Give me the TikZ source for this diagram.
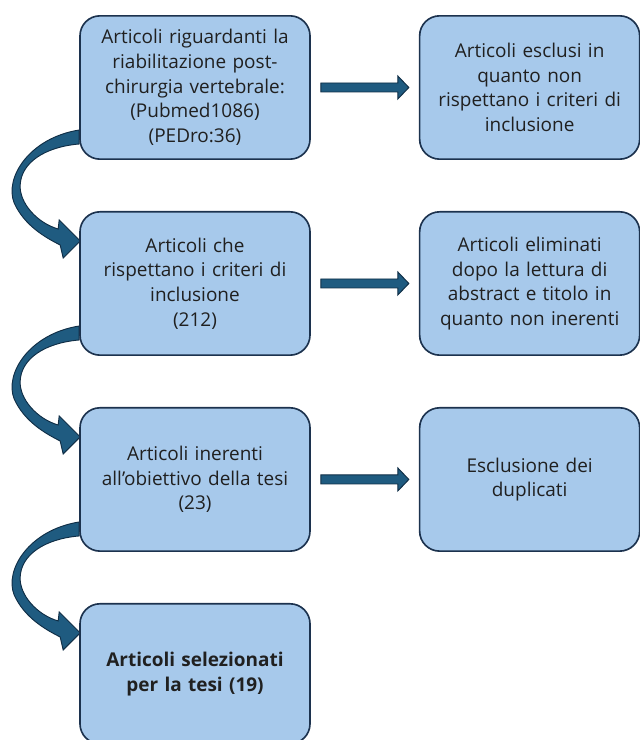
\documentclass[tikz,border=0pt]{standalone}
\usepackage{fontspec}
\setmainfont{Open Sans}
\usepackage{tikz}
\usetikzlibrary{positioning,calc,backgrounds}

\definecolor{boxblue}{RGB}{167,201,235}
\definecolor{boxline}{RGB}{28,50,78}
\definecolor{arrowblue}{RGB}{31,91,128}
\definecolor{arrowline}{RGB}{16,46,70}
\definecolor{textgray}{RGB}{32,32,32}

% straight block arrow between two coordinates (pixel units)
\newcommand{\blockarrow}[2]{%
  \filldraw[arrowstyle]
    ($(#1)+(0,-4.5)$) -- ($(#2)+(-11,-4.5)$) -- ($(#2)+(-11,-11.5)$) -- (#2)
    -- ($(#2)+(-11,11.5)$) -- ($(#2)+(-11,4.5)$) -- ($(#1)+(0,4.5)$) -- cycle;}

% curved arrow entering the left side of a box from the box above
\newcommand{\bendarrow}[1]{%
  \filldraw[arrowstyle]
    ($(#1.north west)+(0,-81)$)
      .. controls ($(#1.north west)+(-50,-73)$) and ($(#1.north west)+(-75,-33)$) .. ($(#1.north west)+(-65,-8)$)
      .. controls ($(#1.north west)+(-55,14)$) and ($(#1.north west)+(-35,26)$) .. ($(#1.north west)+(-19,34)$)
    -- ($(#1.north west)+(-16,47)$) -- ($(#1.north west)+(1,30)$) -- ($(#1.north west)+(-20,9)$)
    -- ($(#1.north west)+(-21,18)$)
      .. controls ($(#1.north west)+(-42,12)$) and ($(#1.north west)+(-60,-8)$) .. ($(#1.north west)+(-59,-26)$)
      .. controls ($(#1.north west)+(-58,-48)$) and ($(#1.north west)+(-35,-64)$) .. ($(#1.north west)+(0,-67)$)
    -- cycle;}

\begin{document}
\begin{tikzpicture}[x=0.03cm, y=-0.03cm]
	\tikzset{
	  every node/.style={text=textgray, font=\fontsize{16.2}{21}\selectfont, align=center},
	  leftbox/.style={draw=boxline, fill=boxblue, line width=1.4pt, rounded corners=0.6cm,
	    minimum width=6.9cm, minimum height=4.3cm, text width=6.4cm, inner sep=0pt},
	  rightbox/.style={leftbox, minimum width=6.6cm, text width=6.3cm},
	  arrowstyle/.style={fill=arrowblue, draw=arrowline, line width=0.8pt}
	}
	\useasboundingbox (0,0) rectangle (639,740);

	\node[leftbox] (b1) at (195,87.5) {Articoli riguardanti la\\riabilitazione post-\\chirurgia vertebrale:\\(Pubmed1086)\\(PEDro:36)};
	\node[leftbox, below=1.53cm of b1] (b2) {Articoli che\\rispettano i criteri di\\inclusione\\(212)};
	\node[leftbox, below=1.53cm of b2] (b3) {Articoli inerenti\\all’obiettivo della tesi\\(23)};
	\node[leftbox, below=1.53cm of b3, minimum height=4.2cm] (b4) {\textbf{Articoli selezionati}\\\textbf{per la tesi (19)}};

	\node[rightbox, right=3.24cm of b1] (r1) {Articoli esclusi in\\quanto non\\rispettano i criteri di\\inclusione};
	\node[rightbox, right=3.24cm of b2] (r2) {Articoli eliminati\\dopo la lettura di\\abstract e titolo in\\quanto non inerenti};
	\node[rightbox, right=3.24cm of b3] (r3) {Esclusione dei\\duplicati};

	% arrows to the excluded boxes
	\foreach \i in {1,2,3} {
	  \coordinate (s\i) at ($(b\i.east)+(10,0)$);
	  \coordinate (e\i) at ($(r\i.west)+(-10,0)$);
	  \blockarrow{s\i}{e\i}
	}

	% curved arrows down the left column, behind the boxes
	\begin{scope}[on background layer]
	  \foreach \n in {b2,b3,b4} {\bendarrow{\n}}
	\end{scope}
\end{tikzpicture}
\end{document}
